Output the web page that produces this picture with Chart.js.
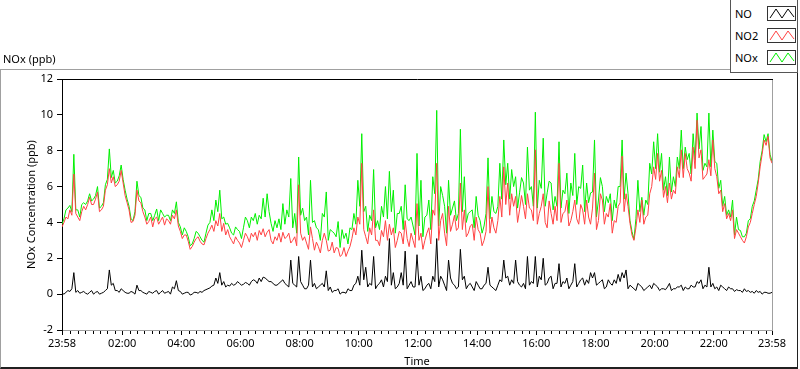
<!DOCTYPE html>
<html><head><meta charset="utf-8">
<script src="https://cdn.jsdelivr.net/npm/chart.js@4"></script>
<style>
html,body{margin:0;padding:0;background:#fff;width:800px;height:369px;overflow:hidden;font-family:"Noto Sans",sans-serif;}
#frame{position:absolute;left:0;top:69px;width:798px;height:300px;box-sizing:border-box;border-top:1px solid #a0a0a0;border-left:1px solid #a0a0a0;border-right:1px solid #202020;border-bottom:2px solid #202020;}
#c{position:absolute;left:0;top:0;}
#ttl{position:absolute;left:3px;top:51px;font-size:11px;line-height:15px;color:#000;}
#legend{position:absolute;left:730px;top:-1px;width:68px;height:74px;box-sizing:border-box;background:#fff;border-left:1px solid #555;border-bottom:1px solid #555;border-right:1px solid #555;}
.row{position:absolute;left:4px;width:62px;height:15px;font-size:11px;line-height:15px;color:#000;}
.icon{position:absolute;left:32px;top:0;width:29px;height:15px;box-sizing:border-box;border:1px solid #333;background:#fff;}
.icon svg{position:absolute;left:0;top:0;}
</style>
</head><body>
<div id="frame"></div>
<canvas id="c" width="800" height="369"></canvas>
<div id="ttl">NOx (ppb)</div>
<div id="legend"></div>
<script>
// ---- data: readings every 8 minutes from 23:58, plus readings in between (at +4 min) ----
const SAMPLE_MINUTES = 8;
const seriesNames = ['NO', 'NO2', 'NOx'];
const seriesColors = ['#000000', '#ff4242', '#00f000'];
const tickMinutes = [0,122,242,362,482,602,722,842,962,1082,1202,1322,1440];
const tickLabels = ['23:58','02:00','04:00','06:00','08:00','10:00','12:00','14:00','16:00','18:00','20:00','22:00','23:58'];
const yTickValues = [-2,0,2,4,6,8,10,12];

const NO = [0.05,0.1,0.15,1.2,0.2,0.1,0.05,0.1,0.0,0.15,0.05,0.2,1.35,0.6,0.2,0.3,0.1,0.05,0.1,0.5,
0.2,0.05,0.15,0.05,0.2,0.1,0.05,0.15,0.4,0.75,0.15,0.05,0.1,0.0,0.1,0.15,0.2,0.3,0.45,0.9,
1.2,0.7,0.5,0.6,0.55,0.6,0.55,0.6,0.7,0.75,0.9,0.95,0.8,0.7,0.5,0.6,0.8,0.5,1.9,0.5,
2.1,0.5,0.3,1.9,0.6,0.4,0.6,1.3,0.4,0.2,0.3,0.1,0.05,0.2,0.5,1.0,2.45,1.5,0.6,2.1,
0.5,0.8,1.0,3.1,1.2,0.4,1.2,2.4,0.5,0.4,2.2,1.0,0.3,0.6,1.0,3.1,1.0,0.5,1.9,0.6,
0.3,2.5,1.0,0.5,0.4,0.7,0.3,0.5,1.5,0.4,0.2,0.8,1.9,1.0,0.8,1.9,0.5,0.6,2.1,0.7,
2.1,1.0,2.0,0.6,1.0,0.6,1.7,0.7,0.9,0.5,1.7,0.6,0.9,0.8,1.2,1.2,0.6,0.8,0.4,0.6,
0.8,1.1,1.2,1.35,0.5,0.3,0.6,0.4,0.3,0.5,0.6,0.4,0.3,0.25,0.6,0.3,0.4,0.5,0.4,0.3,
0.4,0.7,0.8,0.5,1.5,0.6,0.4,0.5,0.3,0.4,0.3,0.25,0.2,0.3,0.2,0.15,0.2,0.15,0.1,0.05,0.1];
const NO_between = [0.0,0.2,0.3,0.1,0.05,0.15,0.0,0.2,0.1,0.0,0.1,0.3,0.5,0.2,0.1,0.2,0.05,0.15,0.0,0.2,
0.1,0.0,0.1,0.15,0.0,0.2,0.1,0.0,0.3,0.2,0.0,0.1,-0.05,0.1,0.05,0.1,0.25,0.35,0.5,0.6,
0.5,0.4,0.45,0.5,0.7,0.5,0.65,0.5,0.8,0.6,0.7,0.9,0.7,0.6,0.5,0.7,0.6,0.4,0.6,0.4,
0.7,0.3,0.5,0.4,0.3,0.5,0.4,0.2,0.1,0.2,0.0,0.1,0.3,0.2,0.6,0.5,0.8,0.4,0.5,0.3,
0.6,0.4,0.7,0.5,0.3,0.6,0.5,0.3,0.7,0.4,0.5,0.2,0.5,0.3,0.7,0.4,0.8,0.2,0.9,0.5,
0.4,0.8,0.3,0.6,0.2,0.5,0.3,0.6,0.5,0.3,0.5,0.7,0.9,0.5,0.6,0.7,0.4,0.3,0.5,0.6,
0.4,0.8,0.5,0.9,0.3,0.6,0.4,0.6,0.3,0.7,0.4,0.8,0.5,0.6,0.9,0.5,0.7,0.3,0.8,0.5,
0.6,0.7,0.9,0.3,0.4,0.2,0.5,0.2,0.4,0.3,0.5,0.2,0.3,0.4,0.2,0.3,0.4,0.2,0.3,0.5,
0.4,0.6,0.3,0.4,0.4,0.3,0.2,0.4,0.2,0.3,0.15,0.2,0.1,0.15,0.1,0.05,0.1,0.0,0.1,0.05];

const NO2 = [3.75,4.3,4.7,6.7,4.3,4.6,4.7,5.4,5.0,5.7,4.7,5.8,7.0,6.55,6.1,6.9,5.5,4.7,4.05,5.8,
5.1,4.3,4.05,3.75,4.3,4.1,3.85,4.1,4.4,4.7,3.5,3.3,2.95,2.65,3.1,2.95,2.75,3.4,3.85,4.1,
4.5,3.95,3.6,3.0,3.2,2.85,3.0,3.2,3.4,3.45,3.55,3.65,3.45,3.0,3.2,3.4,3.45,3.2,2.85,3.2,
6.1,3.0,2.85,3.75,2.45,2.65,3.0,3.0,2.45,2.3,2.55,2.2,2.1,2.65,3.7,4.3,7.3,3.2,3.7,4.7,
3.0,3.55,4.1,3.9,3.7,3.0,3.4,4.1,2.65,3.0,5.05,3.4,3.0,3.7,4.7,7.3,4.1,3.4,4.9,3.9,
3.55,6.2,4.7,3.4,3.9,4.3,3.4,3.0,6.0,4.3,3.4,5.45,7.1,6.2,5.6,5.45,4.7,4.9,5.6,4.7,
8.05,4.5,5.6,3.7,4.5,4.9,7.3,4.5,5.25,4.1,5.25,3.9,4.7,5.25,3.9,6.75,4.1,5.25,4.5,5.05,
4.1,4.9,7.7,5.6,3.95,3.0,4.7,5.25,4.3,5.6,7.1,7.85,6.9,6.0,6.2,5.8,7.1,8.05,7.85,6.75,
8.2,9.7,8.05,6.55,7.5,8.6,6.55,5.8,5.05,4.5,4.7,3.6,3.2,2.85,3.75,4.5,5.45,7.1,8.6,8.8,7.3];
const NO2_between = [4.0,4.2,4.4,4.5,4.1,4.9,5.0,5.0,5.3,4.6,4.9,6.1,6.2,6.0,6.3,6.2,5.1,4.0,4.4,5.2,
4.6,3.9,4.3,4.2,3.9,4.3,4.2,3.9,4.2,3.8,3.1,3.3,2.5,2.9,3.2,2.8,3.1,3.6,3.5,3.8,
3.5,3.3,3.2,2.8,3.0,2.6,3.4,2.9,3.2,3.0,3.3,3.2,3.6,2.8,3.0,2.9,3.1,3.4,3.0,2.7,
3.4,3.2,2.5,3.1,2.9,2.3,3.4,2.4,2.9,2.6,2.1,2.6,2.4,3.1,3.3,3.9,3.6,2.8,3.3,3.0,
2.7,3.2,3.0,3.3,2.6,3.5,2.8,3.1,3.4,2.6,3.0,2.5,3.4,2.8,4.4,3.0,4.5,2.7,3.5,4.4,
3.7,3.6,3.2,3.8,3.0,3.6,2.7,3.5,3.4,3.7,4.1,4.3,5.0,4.4,4.9,4.0,5.5,4.2,4.8,4.1,
3.9,4.9,4.0,5.2,3.9,4.1,4.0,4.6,3.8,4.6,4.2,5.0,3.9,4.3,4.8,3.6,5.6,3.9,4.3,3.4,
4.0,5.1,4.6,4.9,3.3,3.7,4.0,3.9,4.4,6.0,6.4,6.3,5.4,5.1,5.3,5.6,6.5,6.5,7.0,6.3,
7.0,7.6,6.4,6.7,6.6,7.0,5.6,4.6,4.2,4.1,3.1,3.4,3.0,3.2,4.0,5.0,6.2,7.8,8.3,7.6];

const NOx = [3.9,4.7,4.95,7.8,4.7,5.0,5.0,5.6,5.3,6.0,4.9,6.1,8.1,6.9,6.3,7.2,5.8,4.9,4.1,6.3,
5.4,4.7,4.5,4.1,4.75,4.7,4.3,4.4,4.7,5.15,3.75,3.7,3.2,2.8,3.5,3.2,2.9,3.85,4.7,5.25,
5.8,4.3,3.95,3.4,3.75,3.5,3.7,4.1,4.3,4.5,4.4,5.35,5.6,3.95,4.1,4.2,5.05,4.7,6.45,4.5,
7.65,4.8,4.3,6.35,4.1,3.6,4.5,5.7,3.6,3.4,4.05,3.6,3.4,3.7,4.5,6.35,8.95,4.9,4.4,6.95,
4.1,4.9,6.0,6.85,5.8,4.5,4.9,6.1,4.1,3.8,7.85,6.35,4.3,5.25,6.55,10.25,6.0,4.9,6.35,4.8,
4.1,9.2,6.55,4.5,4.7,5.45,4.1,3.8,7.6,5.45,4.5,7.3,8.6,7.3,6.95,6.55,5.65,6.2,8.2,6.0,
10.15,6.35,8.7,5.65,6.2,5.45,8.5,5.8,6.75,6.2,7.85,6.0,7.2,6.2,5.65,8.6,5.25,6.0,5.45,5.6,
5.25,6.0,8.6,6.75,4.1,3.05,6.35,5.4,5.25,7.3,8.5,8.95,7.85,6.55,7.65,6.55,7.65,9.15,8.2,7.85,
8.95,10.1,9.35,7.3,10.1,9.15,7.3,6.35,5.45,4.7,5.25,4.3,3.55,3.2,4.1,4.9,5.8,7.4,8.9,8.95,7.4];
const NOx_between = [4.2,4.8,4.6,4.7,4.3,5.1,5.2,5.2,5.5,4.8,5.1,6.4,6.5,6.2,6.6,6.4,5.3,4.2,4.6,5.5,
4.8,4.1,4.5,4.4,4.1,4.5,4.4,4.1,4.5,4.0,3.3,3.5,2.7,3.1,3.4,3.0,3.4,4.0,4.1,4.6,
4.2,3.9,3.7,3.3,3.6,3.1,4.3,3.7,4.1,3.9,4.2,4.3,4.6,3.5,3.7,3.6,3.9,4.3,3.7,3.4,
4.4,4.1,3.3,4.0,3.7,3.0,4.3,3.0,3.5,3.2,2.6,3.1,2.8,3.6,3.9,4.9,4.6,3.5,4.1,3.7,
3.6,4.3,4.2,4.6,3.4,4.5,3.6,4.2,4.3,3.3,3.8,3.2,4.4,3.6,5.6,3.8,5.5,3.4,4.4,5.2,
4.5,4.6,4.0,4.6,3.7,4.4,3.4,4.5,4.2,4.6,4.9,5.3,6.1,5.3,6.0,4.8,6.5,5.0,5.8,4.9,
4.8,5.9,4.9,6.3,4.7,4.9,4.8,5.6,4.5,5.5,5.0,5.9,4.6,5.1,5.7,4.3,6.5,4.6,5.1,4.1,
4.8,6.0,5.3,5.6,3.5,4.2,4.6,4.4,5.0,6.7,7.0,6.8,5.8,5.5,5.7,6.0,7.0,7.0,7.5,6.7,
7.5,8.1,6.9,7.1,7.1,7.4,5.9,4.9,4.4,4.3,3.3,3.6,3.2,3.4,4.2,5.2,6.4,8.0,8.5,7.8];

const MINOR_START = 2, MINOR_STEP = 15;

// ---- legend (HTML) ----
const legend = document.getElementById('legend');
const rowTops = [7, 29, 51];
seriesNames.forEach((n, i) => {
  const r = document.createElement('div');
  r.className = 'row';
  r.style.top = rowTops[i] + 'px';
  r.innerHTML = '<span>' + n + '</span><div class="icon"><svg width="27" height="13"><polyline points="2,11 8,2 14,11 20,2 26,10" fill="none" stroke="' + seriesColors[i] + '" stroke-width="1"/></svg></div>';
  legend.appendChild(r);
});

// merge the on-grid readings and the in-between readings into one time series
function toXY(onGrid, between) {
  const out = [];
  onGrid.forEach((v, i) => {
    out.push({x: i * SAMPLE_MINUTES, y: v});
    if (i < between.length) out.push({x: i * SAMPLE_MINUTES + SAMPLE_MINUTES / 2, y: between[i]});
  });
  return out;
}
const FONT = {family: '"Noto Sans", sans-serif', size: 11};

const framePlugin = {
  id: 'framePlugin',
  afterDraw(chart) {
    const {ctx, chartArea: a} = chart;
    const x = chart.scales.x;
    ctx.save();
    ctx.lineWidth = 1;
    ctx.strokeStyle = '#000';
    ctx.beginPath(); ctx.moveTo(a.left, a.top + 0.5); ctx.lineTo(a.right + 1, a.top + 0.5); ctx.stroke();
    ctx.strokeStyle = '#a0a0a0';
    ctx.beginPath(); ctx.moveTo(a.right + 0.5, a.top + 1); ctx.lineTo(a.right + 0.5, a.bottom); ctx.stroke();
    ctx.strokeStyle = '#000';
    ctx.beginPath();
    for (let m = MINOR_START; m < 1440; m += MINOR_STEP) {
      if (tickMinutes.some(t => Math.abs(t - m) < 4)) continue;
      const px = Math.round(x.getPixelForValue(m)) + 0.5;
      ctx.moveTo(px, a.bottom + 1); ctx.lineTo(px, a.bottom + 4);
    }
    ctx.stroke();
    ctx.restore();
  }
};

const mk = (i, arr, mid) => ({
  label: seriesNames[i], data: toXY(arr, mid), borderColor: seriesColors[i], backgroundColor: seriesColors[i],
  borderWidth: 1, pointRadius: 0, tension: 0, fill: false
});

new Chart(document.getElementById('c'), {
  type: 'line',
  data: {datasets: [mk(0, NO, NO_between), mk(1, NO2, NO2_between), mk(2, NOx, NOx_between)]},
  options: {
    responsive: false, animation: false, devicePixelRatio: 1,
    layout: {padding: {left: 0, top: 79, right: 28, bottom: 0}},
    plugins: {legend: {display: false}, tooltip: {enabled: false}, title: {display: false}},
    scales: {
      x: {
        type: 'linear', min: 0, max: 1440,
        afterBuildTicks: s => { s.ticks = tickMinutes.map(v => ({value: v})); },
        afterFit: s => { s.height = 39; },
        ticks: {autoSkip: false, maxRotation: 0, minRotation: 0, padding: 2, color: '#000', font: FONT,
          callback: (v) => tickLabels[tickMinutes.indexOf(v)] ?? ''},
        grid: {drawOnChartArea: false, drawTicks: true, tickLength: 5, tickColor: '#000'},
        border: {display: true, color: '#a0a0a0', width: 1},
        title: {display: true, text: 'Time', color: '#000', font: FONT, padding: {top: 0, bottom: 1}}
      },
      y: {
        min: -2, max: 12,
        afterBuildTicks: s => { s.ticks = yTickValues.map(v => ({value: v})); },
        afterFit: s => { s.width = 62; },
        ticks: {padding: 4, color: '#000', font: FONT},
        grid: {drawOnChartArea: false, drawTicks: true, tickLength: 5, tickColor: '#000'},
        border: {display: true, color: '#000', width: 1},
        title: {display: true, text: 'NOx Concentration (ppb)', color: '#000', font: FONT, padding: {top: 25, bottom: 0}}
      }
    }
  },
  plugins: [framePlugin]
});
</script>
</body></html>
